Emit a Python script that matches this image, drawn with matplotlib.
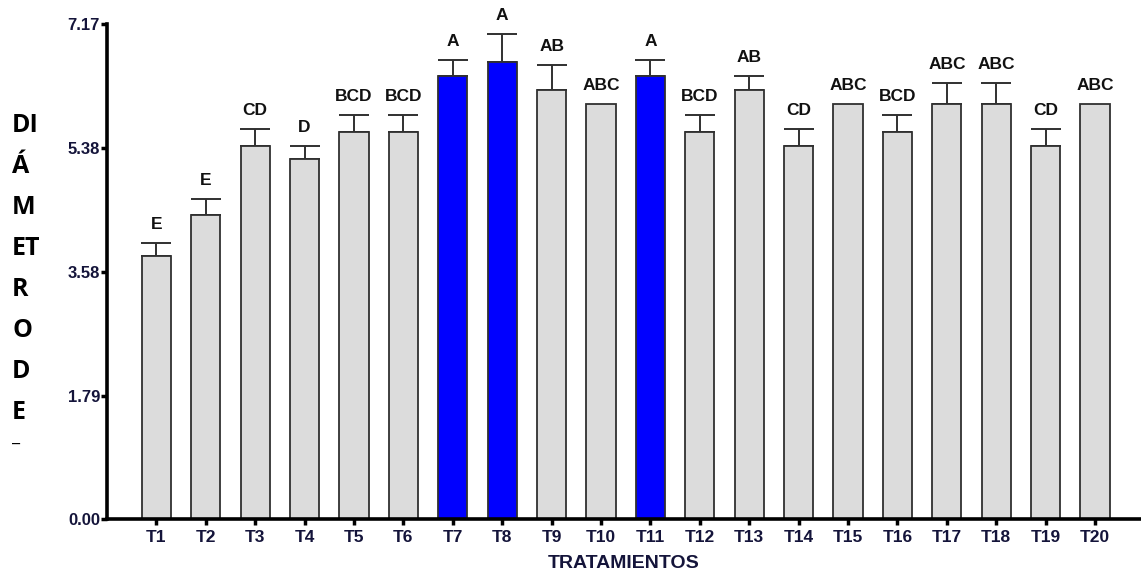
import matplotlib.pyplot as plt
import numpy as np

tratamientos = ["T" + str(i) for i in range(1, 21)]
medias = [3.81, 4.40, 5.41, 5.21, 5.61, 5.61, 6.42, 6.62, 6.22, 6.01,
          6.42, 5.61, 6.21, 5.41, 6.01, 5.61, 6.01, 6.01, 5.41, 6.01]
error = [0.19, 0.24, 0.24, 0.20, 0.24, 0.24, 0.23, 0.40, 0.36, 0.0,
         0.23, 0.24, 0.21, 0.24, 0.0, 0.24, 0.31, 0.31, 0.24, 0.0]
letras = ["E", "E", "CD", "D", "BCD", "BCD", "A", "A", "AB", "ABC",
          "A", "BCD", "AB", "CD", "ABC", "BCD", "ABC", "ABC", "CD", "ABC"]
destacados = ["T7", "T8", "T11"]
yticks = [0.00, 1.79, 3.58, 5.38, 7.17]
ylabel_lineas = ["DI", "Á", "M", "ET", "R", "O", "D", "E"]

W, H = 1141, 573
fig = plt.figure(figsize=(W / 100, H / 100), dpi=100)
ax = fig.add_axes([107 / W, 1 - 519.3 / H, 1 - 107 / W, (519.3 - 24) / H])

ind = np.arange(len(tratamientos))
colores = ['#0000ff' if t in destacados else '#dcdcdc' for t in tratamientos]
ax.bar(ind, medias, 0.59, color=colores, edgecolor='#303030', linewidth=1.3, zorder=2)

con_err = [i for i in ind if error[i] > 0]
ax.errorbar(ind[con_err], np.array(medias)[con_err],
            yerr=[np.zeros(len(con_err)), np.array(error)[con_err]],
            fmt='none', ecolor='#303030', elinewidth=1.4, capsize=10.5, capthick=1.4, zorder=1)

for i in ind:
    ax.annotate(letras[i], (i, medias[i] + error[i]), xytext=(0, 10), textcoords='offset points',
                ha='center', va='baseline', fontsize=12.5, fontweight='bold',
                family='Liberation Sans', color='#111111')

ax.set_xlim(-1, 19.93)
ax.set_ylim(0, 7.17)
ax.set_xticks(ind)
ax.set_xticklabels(tratamientos)
ax.set_yticks(yticks)
ax.set_yticklabels(["%.2f" % v for v in yticks])

for s in ['top', 'right']:
    ax.spines[s].set_visible(False)
for s in ['left', 'bottom']:
    ax.spines[s].set_linewidth(2.6)
    ax.spines[s].set_color('black')

ax.tick_params(axis='x', length=4, width=2.5, pad=4, direction='out')
ax.tick_params(axis='y', length=4, width=2.5, pad=1, direction='out')
for lab in ax.get_xticklabels():
    lab.set_fontsize(12.5)
for lab in ax.get_yticklabels():
    lab.set_fontsize(12)
for lab in ax.get_xticklabels() + ax.get_yticklabels():
    lab.set_fontweight('bold')
    lab.set_family('Liberation Sans')
    lab.set_color('#14143a')

fig.text(624 / W, 1 - 572 / H, "TRATAMIENTOS", ha='center', va='bottom',
         fontsize=14, fontweight='bold', family='Liberation Sans', color='#14143a')

for k, txt in enumerate(ylabel_lineas):
    base = 132 + k * 41
    fig.text(12 / W, 1 - base / H, txt, ha='left', va='baseline',
             fontsize=18, fontweight='bold', family='Open Sans', color='black')
fig.text(12 / W, 1 - 442 / H, "_", ha='left', va='baseline',
         fontsize=14, fontweight='bold', family='Open Sans', color='black')

fig.savefig("out.png", dpi=100)
